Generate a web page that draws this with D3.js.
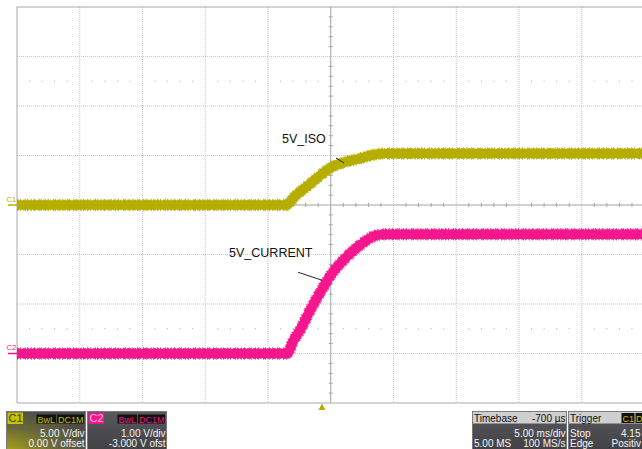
<!DOCTYPE html>
<html><head><meta charset="utf-8">
<script src="https://cdn.jsdelivr.net/npm/d3@7"></script>
<style>
body{margin:0;background:#fff}
svg{display:block;font-family:"Liberation Sans",Arial,sans-serif}
</style>
</head><body><svg id="c" width="642" height="449"></svg>
<script>
// ---- data (time in ms, values in V) ----
const timeC1 = [-25, -3.56, -2.84, -1.65, -0.85, 0.02, 1.14, 2.33, 3.29, 4.33, 25];
const voltC1 = [0, 0, 0.91, 2.12, 2.98, 3.79, 4.34, 4.70, 5.05, 5.20, 5.20];
const timeC2 = [-25, -3.48, -3.00, -2.45, -1.65, -0.85, 0.02, 1.30, 2.33, 3.69, 4.57, 25];
const voltC2 = [0, 0, 0.25, 0.47, 0.87, 1.23, 1.59, 1.96, 2.19, 2.39, 2.41, 2.41];
const timeTicks = [-25, -20, -15, -10, -5, 0, 5, 10, 15, 20, 25];
const divTicks = [-4, -3, -2, -1, 0, 1, 2, 3, 4];
const triggerTime = -0.7;
const annotations = [
  {text: "5V_ISO", ch: 1, t: 1.06, v: 4.24},
  {text: "5V_CURRENT", ch: 2, t: -0.69, v: 1.48}
];
const c1Info = ["C1", "BwL", "DC1M", "5.00 V/div", "0.00 V offset"];
const c2Info = ["C2", "BwL", "DC1M", "1.00 V/div", "-3.000 V ofst"];
const tbInfo = ["Timebase", "-700 µs", "5.00 ms/div", "5.00 MS", "100 MS/s"];
const trInfo = ["Trigger", "C1", "D", "Stop", "4.15", "Edge", "Positiv"];

const COL1 = "#b5ae00", COL2 = "#f5158c";
const svg = d3.select("#c");
const L = 17, T = 7, W = 627.5, H = 396;
const x = d3.scaleLinear().domain([-25, 25]).range([L, L + W]);
const y1 = d3.scaleLinear().domain([-20, 20]).range([T + H, T]);
const y2 = d3.scaleLinear().domain([-1, 7]).range([T + H, T]);
const gy = d3.scaleLinear().domain([-4, 4]).range([T + H, T]);

// grid
const g = svg.append("g");
g.selectAll(".vg").data(timeTicks.filter(t => t !== 0 && t > -25 && t < 25)).join("line")
  .attr("x1", d => x(d)).attr("x2", d => x(d)).attr("y1", T).attr("y2", T + H)
  .attr("stroke", "#c8c8c8").attr("stroke-dasharray", "1,1");
g.selectAll(".hg").data(divTicks.filter(d => d !== 0 && Math.abs(d) < 4)).join("line")
  .attr("y1", d => gy(d)).attr("y2", d => gy(d)).attr("x1", L).attr("x2", 642)
  .attr("stroke", "#c8c8c8").attr("stroke-dasharray", "1,1");
// minor dot rows
const minorT = d3.range(-24, 25, 1).filter(t => t % 5 !== 0);
[-2.5, 2.5].forEach(dv => {
  g.selectAll(null).data(minorT).join("rect")
    .attr("x", d => x(d) - 0.5).attr("y", gy(dv) - 0.5).attr("width", 1).attr("height", 1)
    .attr("fill", "#a8a8a8");
});
// center axes
g.append("line").attr("x1", L).attr("x2", 642).attr("y1", gy(0)).attr("y2", gy(0)).attr("stroke", "#a4a4a4");
g.append("line").attr("x1", x(0)).attr("x2", x(0)).attr("y1", T).attr("y2", T + H).attr("stroke", "#a4a4a4");
g.selectAll(null).data(minorT).join("line")
  .attr("x1", d => x(d)).attr("x2", d => x(d)).attr("y1", gy(0) - 2).attr("y2", gy(0) + 2).attr("stroke", "#a4a4a4");
const minorV = d3.range(-3.8, 4, 0.2).filter(v => Math.abs(v - Math.round(v)) > 0.05);
g.selectAll(null).data(minorV).join("line")
  .attr("y1", d => gy(d)).attr("y2", d => gy(d)).attr("x1", x(0) - 2).attr("x2", x(0) + 2).attr("stroke", "#a4a4a4");
// borders
g.append("line").attr("x1", L).attr("x2", 642).attr("y1", T).attr("y2", T).attr("stroke", "#a8a8a8");
g.append("line").attr("x1", L).attr("x2", 642).attr("y1", T + H).attr("y2", T + H).attr("stroke", "#a8a8a8");
g.append("line").attr("x1", L).attr("x2", L).attr("y1", T).attr("y2", T + H).attr("stroke", "#a8a8a8");

// traces
function trace(times, volts, ys, col) {
  const pts = times.map((t, i) => [x(t), ys(volts[i])]);
  const line = d3.line().curve(d3.curveMonotoneX);
  svg.append("path").attr("d", line(pts)).attr("fill", "none").attr("stroke", col)
    .attr("stroke-width", 12.5).attr("stroke-dasharray", "1,2,1,4,1,1,1,3").attr("opacity", 0.7);
  svg.append("path").attr("d", line(pts)).attr("fill", "none").attr("stroke", col)
    .attr("stroke-width", 11).attr("stroke-dasharray", "2,1,1,2,3,1").attr("opacity", 0.8);
  svg.append("path").attr("d", line(pts)).attr("fill", "none").attr("stroke", col)
    .attr("stroke-width", 9.5).attr("stroke-linejoin", "round");
}
trace(timeC2, voltC2, y2, COL2);
trace(timeC1, voltC1, y1, COL1);

// channel markers
[[c1Info[0], y1(0), COL1], [c2Info[0], y2(0), COL2]].forEach(([lab, yy, col]) => {
  svg.append("line").attr("x1", 8).attr("x2", L).attr("y1", yy).attr("y2", yy).attr("stroke", col).attr("stroke-width", 1.5);
  svg.append("text").attr("x", 6.5).attr("y", yy - 3.5).attr("font-size", 7.5).attr("fill", col).text(lab);
});
// trigger marker
const tx = x(triggerTime);
svg.append("path").attr("d", `M${tx},${T + H + 0.5}L${tx - 3.5},${T + H + 7}L${tx + 3.5},${T + H + 7}Z`).attr("fill", COL1);

// annotations
const annOff = [{lx: -8, ly: -5, tx: -62, ty: -20}, {lx: -24, ly: -8, tx: -93, ty: -23}];
annotations.forEach((a, i) => {
  const ys = a.ch === 1 ? y1 : y2;
  const ex = x(a.t), ey = ys(a.v), o = annOff[i];
  svg.append("line").attr("x1", ex + o.lx).attr("y1", ey + o.ly).attr("x2", ex).attr("y2", ey)
    .attr("stroke", "#222").attr("stroke-width", 1);
  svg.append("text").attr("x", ex + o.tx).attr("y", ey + o.ty).attr("font-size", 12.5).attr("fill", "#111").text(a.text);
});

// info boxes
const defs = svg.append("defs");
const rg = defs.append("radialGradient").attr("id", "gc1").attr("cx", "0").attr("cy", "1").attr("r", "1.1");
rg.append("stop").attr("offset", "0").attr("stop-color", "#aaa416");
rg.append("stop").attr("offset", "0.55").attr("stop-color", "#6a6838");
rg.append("stop").attr("offset", "1").attr("stop-color", "#4c4c4c");
const lg = defs.append("linearGradient").attr("id", "gdk").attr("x1", 0).attr("y1", 0).attr("x2", 0).attr("y2", 1);
lg.append("stop").attr("offset", "0").attr("stop-color", "#5a5a5e");
lg.append("stop").attr("offset", "1").attr("stop-color", "#404044");

const fs = 10;
function chBox(x0, w, info, col, fill, labTxt) {
  svg.append("rect").attr("x", x0).attr("y", 411.5).attr("width", w).attr("height", 40).attr("fill", fill).attr("stroke", "#7a7a7a");
  svg.append("rect").attr("x", x0 + 1).attr("y", 412.5).attr("width", 15.5).attr("height", 11.5).attr("fill", col);
  svg.append("text").attr("x", x0 + 2).attr("y", 422).attr("font-size", 11).attr("fill", labTxt).text(info[0]);
  svg.append("rect").attr("x", x0 + 30).attr("y", 414.5).attr("width", 19.5).attr("height", 9).attr("fill", "#111");
  svg.append("text").attr("x", x0 + 31).attr("y", 422.5).attr("font-size", 9).attr("fill", col).text(info[1]);
  svg.append("rect").attr("x", x0 + 50.5).attr("y", 414.5).attr("width", 27).attr("height", 9).attr("fill", "#111");
  svg.append("text").attr("x", x0 + 51.5).attr("y", 422.5).attr("font-size", 9).attr("fill", col).text(info[2]);
  svg.append("text").attr("x", x0 + w - 1).attr("y", 436.5).attr("font-size", fs).attr("fill", "#f4f4f4").attr("text-anchor", "end").text(info[3]);
  svg.append("text").attr("x", x0 + w - 1).attr("y", 446.5).attr("font-size", fs).attr("fill", "#f4f4f4").attr("text-anchor", "end").text(info[4]);
}
chBox(6.5, 79, c1Info, "#c8c000", "url(#gc1)", "#3a3800");
chBox(87.5, 79, c2Info, COL2, "url(#gdk)", "#ffc0e0");

// timebase
svg.append("rect").attr("x", 472.5).attr("y", 411.5).attr("width", 94).attr("height", 40).attr("fill", "url(#gdk)").attr("stroke", "#7a7a7a");
svg.append("rect").attr("x", 473).attr("y", 412).attr("width", 93).attr("height", 11.5).attr("fill", "#cfcfcf");
svg.append("text").attr("x", 474).attr("y", 422).attr("font-size", fs).attr("fill", "#111").text(tbInfo[0]);
svg.append("text").attr("x", 565.5).attr("y", 422).attr("font-size", fs).attr("fill", "#111").attr("text-anchor", "end").text(tbInfo[1]);
svg.append("text").attr("x", 565.5).attr("y", 436.5).attr("font-size", fs).attr("fill", "#f4f4f4").attr("text-anchor", "end").text(tbInfo[2]);
svg.append("text").attr("x", 474).attr("y", 446.5).attr("font-size", fs).attr("fill", "#f4f4f4").text(tbInfo[3]);
svg.append("text").attr("x", 565.5).attr("y", 446.5).attr("font-size", fs).attr("fill", "#f4f4f4").attr("text-anchor", "end").text(tbInfo[4]);
// trigger
svg.append("rect").attr("x", 568.5).attr("y", 411.5).attr("width", 90).attr("height", 40).attr("fill", "url(#gdk)").attr("stroke", "#7a7a7a");
svg.append("rect").attr("x", 569).attr("y", 412).attr("width", 89).attr("height", 11.5).attr("fill", "#cfcfcf");
svg.append("text").attr("x", 570).attr("y", 422).attr("font-size", fs).attr("fill", "#111").text(trInfo[0]);
svg.append("rect").attr("x", 621.5).attr("y", 413).attr("width", 13).attr("height", 10).attr("fill", "#111");
svg.append("text").attr("x", 622.5).attr("y", 421.5).attr("font-size", 9).attr("fill", "#c8c000").text(trInfo[1]);
svg.append("rect").attr("x", 635.5).attr("y", 413).attr("width", 13).attr("height", 10).attr("fill", "#111");
svg.append("text").attr("x", 636).attr("y", 421.5).attr("font-size", 9).attr("fill", "#c8c000").text(trInfo[2]);
svg.append("text").attr("x", 570).attr("y", 436.5).attr("font-size", fs).attr("fill", "#f4f4f4").text(trInfo[3]);
svg.append("text").attr("x", 640.5).attr("y", 436.5).attr("font-size", fs).attr("fill", "#f4f4f4").attr("text-anchor", "end").text(trInfo[4]);
svg.append("text").attr("x", 570).attr("y", 446.5).attr("font-size", fs).attr("fill", "#f4f4f4").text(trInfo[5]);
svg.append("text").attr("x", 641).attr("y", 446.5).attr("font-size", fs).attr("fill", "#f4f4f4").attr("text-anchor", "end").text(trInfo[6]);
</script>
</body></html>
